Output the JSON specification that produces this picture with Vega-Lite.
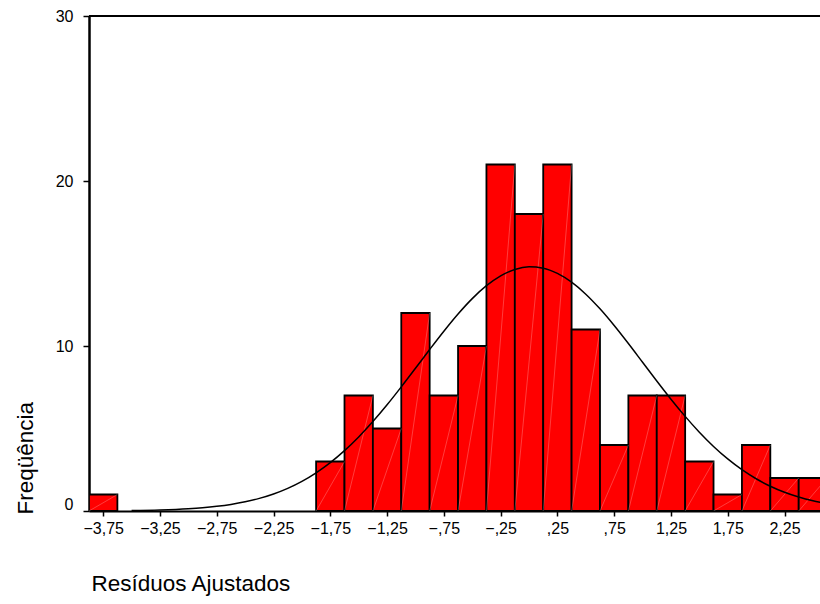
{
  "$schema": "https://vega.github.io/schema/vega-lite/v6.json",
  "width": 731,
  "height": 495,
  "autosize": {"type": "none"},
  "padding": {"left": 89, "top": 16, "right": 0, "bottom": 93},
  "background": "white",
  "config": {
    "view": {"stroke": null},
    "font": "Liberation Sans",
    "axis": {
      "labelFont": "Liberation Sans",
      "titleFont": "Liberation Sans",
      "labelColor": "black",
      "titleColor": "black",
      "domainColor": "black",
      "tickColor": "black",
      "labelFontSize": 16,
      "titleFontSize": 22.5,
      "titleFontWeight": "normal",
      "grid": false
    }
  },
  "datasets": {
    "bins": [
      {"lo": -3.875, "hi": -3.625, "n": 1},
      {"lo": -1.875, "hi": -1.625, "n": 3},
      {"lo": -1.625, "hi": -1.375, "n": 7},
      {"lo": -1.375, "hi": -1.125, "n": 5},
      {"lo": -1.125, "hi": -0.875, "n": 12},
      {"lo": -0.875, "hi": -0.625, "n": 7},
      {"lo": -0.625, "hi": -0.375, "n": 10},
      {"lo": -0.375, "hi": -0.125, "n": 21},
      {"lo": -0.125, "hi": 0.125, "n": 18},
      {"lo": 0.125, "hi": 0.375, "n": 21},
      {"lo": 0.375, "hi": 0.625, "n": 11},
      {"lo": 0.625, "hi": 0.875, "n": 4},
      {"lo": 0.875, "hi": 1.125, "n": 7},
      {"lo": 1.125, "hi": 1.375, "n": 7},
      {"lo": 1.375, "hi": 1.625, "n": 3},
      {"lo": 1.625, "hi": 1.875, "n": 1},
      {"lo": 1.875, "hi": 2.125, "n": 4},
      {"lo": 2.125, "hi": 2.375, "n": 2},
      {"lo": 2.375, "hi": 2.625, "n": 2}
    ],
    "normal": [
      {"r": -3.5, "f": 0.025},
      {"r": -3.25, "f": 0.059},
      {"r": -3.0, "f": 0.133},
      {"r": -2.875, "f": 0.195},
      {"r": -2.75, "f": 0.282},
      {"r": -2.625, "f": 0.399},
      {"r": -2.5, "f": 0.557},
      {"r": -2.375, "f": 0.765},
      {"r": -2.25, "f": 1.034},
      {"r": -2.125, "f": 1.375},
      {"r": -2.0, "f": 1.8},
      {"r": -1.875, "f": 2.318},
      {"r": -1.75, "f": 2.935},
      {"r": -1.625, "f": 3.66},
      {"r": -1.5, "f": 4.489},
      {"r": -1.375, "f": 5.418},
      {"r": -1.25, "f": 6.435},
      {"r": -1.125, "f": 7.521},
      {"r": -1.0, "f": 8.649},
      {"r": -0.875, "f": 9.787},
      {"r": -0.75, "f": 10.896},
      {"r": -0.625, "f": 11.939},
      {"r": -0.5, "f": 12.872},
      {"r": -0.375, "f": 13.654},
      {"r": -0.25, "f": 14.253},
      {"r": -0.125, "f": 14.64},
      {"r": 0.0, "f": 14.797},
      {"r": 0.125, "f": 14.716},
      {"r": 0.25, "f": 14.4},
      {"r": 0.375, "f": 13.868},
      {"r": 0.5, "f": 13.14},
      {"r": 0.625, "f": 12.251},
      {"r": 0.75, "f": 11.239},
      {"r": 0.875, "f": 10.147},
      {"r": 1.0, "f": 9.013},
      {"r": 1.125, "f": 7.878},
      {"r": 1.25, "f": 6.775},
      {"r": 1.375, "f": 5.735},
      {"r": 1.5, "f": 4.776},
      {"r": 1.625, "f": 3.913},
      {"r": 1.75, "f": 3.155},
      {"r": 1.875, "f": 2.503},
      {"r": 2.0, "f": 1.954},
      {"r": 2.125, "f": 1.501},
      {"r": 2.25, "f": 1.134},
      {"r": 2.375, "f": 0.844},
      {"r": 2.5, "f": 0.618},
      {"r": 2.625, "f": 0.445}
    ]
  },
  "layer": [
    {
      "data": {"name": "bins"},
      "mark": {"type": "bar", "color": "#FF0000", "stroke": "black", "strokeWidth": 1.8, "clip": true},
      "encoding": {
        "x": {
          "field": "lo",
          "type": "quantitative",
          "scale": {"domain": [-3.875, 2.5625], "nice": false, "zero": false},
          "axis": {
            "values": [-3.75, -3.25, -2.75, -2.25, -1.75, -1.25, -0.75, -0.25, 0.25, 0.75, 1.25, 1.75, 2.25],
            "labelExpr": "replace(replace(format(datum.value, '.2f'), '0.', '.'), '.', ',')",
            "domainWidth": 2,
            "tickSize": 5,
            "tickWidth": 1.5,
            "labelPadding": 4,
            "labelFlush": false,
            "labelOverlap": false,
            "title": "Resíduos Ajustados",
            "titleAnchor": "start",
            "titleAlign": "left",
            "titleBaseline": "alphabetic",
            "titleX": 2,
            "titleY": 79
          }
        },
        "x2": {"field": "hi"},
        "y": {
          "field": "n",
          "type": "quantitative",
          "scale": {"domain": [0, 30], "nice": false},
          "axis": {
            "values": [0, 10, 20, 30],
            "domainWidth": 2.5,
            "tickSize": 6,
            "tickWidth": 1.5,
            "labelPadding": 10,
            "labelOffset": {"condition": {"test": "datum.value == 0", "value": -7}, "value": 0},
            "title": "Freqüência",
            "titleAngle": -90,
            "titleAnchor": "start",
            "titleAlign": "left",
            "titleBaseline": "alphabetic",
            "titleX": -57,
            "titleY": 498
          }
        },
        "y2": {"datum": 0}
      }
    },
    {
      "data": {"name": "bins"},
      "mark": {"type": "rule", "color": "white", "opacity": 0.3, "strokeWidth": 0.8, "clip": true},
      "encoding": {
        "x": {"field": "hi", "type": "quantitative"},
        "x2": {"field": "lo"},
        "y": {"field": "n", "type": "quantitative"},
        "y2": {"datum": 0}
      }
    },
    {
      "data": {"name": "normal"},
      "mark": {"type": "line", "color": "black", "strokeWidth": 1.5, "clip": true, "interpolate": "monotone"},
      "encoding": {
        "x": {"field": "r", "type": "quantitative"},
        "y": {"field": "f", "type": "quantitative"}
      }
    },
    {
      "data": {"values": [{"top": 30}]},
      "mark": {"type": "rule", "color": "black", "strokeWidth": 2},
      "encoding": {
        "y": {"field": "top", "type": "quantitative"}
      }
    }
  ]
}
